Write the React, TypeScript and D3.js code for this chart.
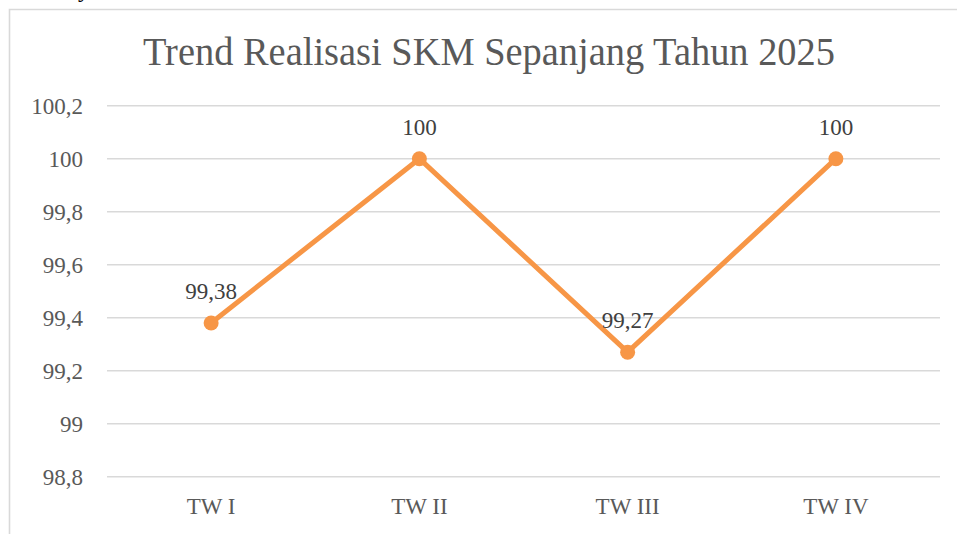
import React from "react";
import * as d3 from "d3";

const categories = ["TW I", "TW II", "TW III", "TW IV"];
const values = [99.38, 100, 99.27, 100];
const valueLabels = ["99,38", "100", "99,27", "100"];
const yTicks = [98.8, 99, 99.2, 99.4, 99.6, 99.8, 100, 100.2];
const title = "Trend Realisasi SKM Sepanjang Tahun 2025";

const W = 957;
const H = 534;
const plotLeft = 107;
const plotRight = 940;
const plotTop = 105.7;
const plotBottom = 476.7;

const fmt = (v: number) => {
  const r = Math.round(v * 10) / 10;
  const s = Math.abs(r - Math.round(r)) < 1e-9 ? String(Math.round(r)) : r.toFixed(1);
  return s.replace(".", ",");
};

export default function App() {
  const x = d3.scaleBand<string>().domain(categories).range([plotLeft, plotRight]);
  const y = d3.scaleLinear().domain([98.8, 100.2]).range([plotBottom, plotTop]);
  const cx = (c: string) => (x(c) as number) + x.bandwidth() / 2;
  const line = d3
    .line<number>()
    .x((_, i) => cx(categories[i]))
    .y((d) => y(d));
  const font = "'Liberation Serif', 'Times New Roman', serif";
  return (
    <svg
      width={W}
      height={H}
      style={{ position: "fixed", left: 0, top: 0, background: "#fff" }}
    >
      <rect x={0} y={0} width={W} height={H} fill="#fff" />
      <text x={78} y={-3} fontFamily={font} fontSize={24} fill="#000">y</text>
      <path d={`M9.5,${H} L9.5,9.5 L${W},9.5`} fill="none" stroke="#d9d9d9" strokeWidth={1.6} />
      <text
        x={489}
        y={65}
        textAnchor="middle"
        fontFamily={font}
        fontSize={41}
        fill="#595959"
        textLength={692}
        lengthAdjust="spacingAndGlyphs"
      >
        {title}
      </text>
      {yTicks.map((t) => (
        <g key={t}>
          <line
            x1={plotLeft}
            x2={plotRight}
            y1={y(t)}
            y2={y(t)}
            stroke="#d9d9d9"
            strokeWidth={1.5}
          />
          <text
            x={83}
            y={y(t) + 8}
            textAnchor="end"
            fontFamily={font}
            fontSize={23}
            fill="#595959"
          >
            {fmt(t)}
          </text>
        </g>
      ))}
      {categories.map((c) => (
        <text
          key={c}
          x={cx(c)}
          y={514}
          textAnchor="middle"
          fontFamily={font}
          fontSize={23}
          fill="#595959"
        >
          {c}
        </text>
      ))}
      <path
        d={line(values) || ""}
        fill="none"
        stroke="#F79646"
        strokeWidth={5}
        strokeLinejoin="round"
        strokeLinecap="round"
      />
      {values.map((v, i) => (
        <circle key={i} cx={cx(categories[i])} cy={y(v)} r={7.5} fill="#F79646" />
      ))}
      {values.map((v, i) => (
        <text
          key={"l" + i}
          x={cx(categories[i])}
          y={y(v) - 24}
          textAnchor="middle"
          fontFamily={font}
          fontSize={23}
          fill="#404040"
        >
          {valueLabels[i]}
        </text>
      ))}
    </svg>
  );
}
